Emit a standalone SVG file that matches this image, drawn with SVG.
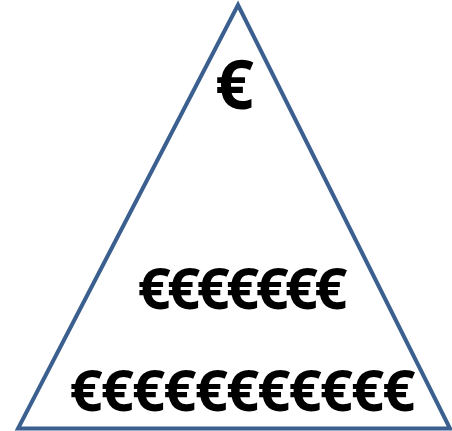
<svg xmlns="http://www.w3.org/2000/svg" width="452" height="431" viewBox="0 0 452 431">
<style>
.e{font-family:"Open Sans","Liberation Sans",sans-serif;font-weight:bold;fill:#000;text-anchor:middle}
</style>
<rect width="452" height="431" fill="#fff"/>
<g id="pyramid">
<polygon points="238,5 18,428.5 450,428.5" fill="none" stroke="#3b5f8e" stroke-width="4" stroke-linejoin="miter"/>
</g>
<g id="top"><text class="e" x="234.5" y="109" font-size="68">€</text></g>
<g id="middle"><text class="e" x="242.5" y="309" font-size="58" textLength="210" lengthAdjust="spacing">€€€€€€€</text></g>
<g id="bottom"><text class="e" x="242.5" y="411" font-size="58" textLength="346" lengthAdjust="spacing">€€€€€€€€€€€</text></g>
</svg>
